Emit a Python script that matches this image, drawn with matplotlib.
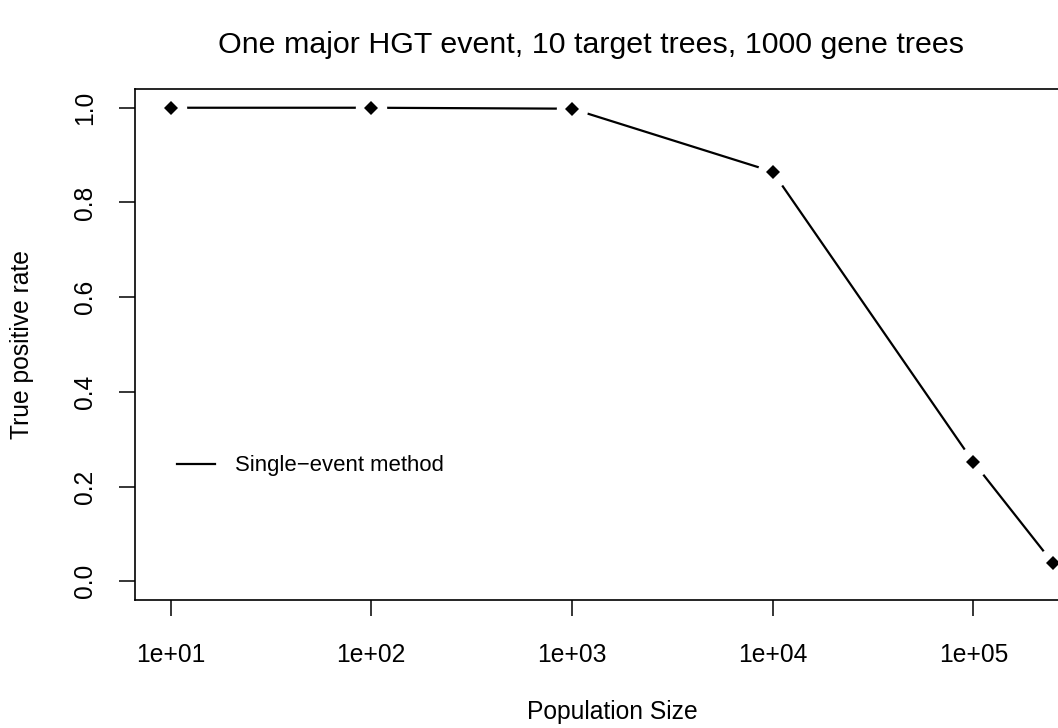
import numpy as np
import matplotlib
matplotlib.use("Agg")
import matplotlib.pyplot as plt
from matplotlib.lines import Line2D

population_size = [1e1, 1e2, 1e3, 1e4, 1e5, 2.5e5]
true_positive_rate = [1.0, 1.0, 0.998, 0.865, 0.252, 0.038]
x_ticks = [1e1, 1e2, 1e3, 1e4, 1e5]
x_tick_labels = ["1e+01", "1e+02", "1e+03", "1e+04", "1e+05"]
y_ticks = [0.0, 0.2, 0.4, 0.6, 0.8, 1.0]
y_tick_labels = ["0.0", "0.2", "0.4", "0.6", "0.8", "1.0"]
title = "One major HGT event, 10 target trees, 1000 gene trees"
x_label = "Population Size"
y_label = "True positive rate"
legend_label = "Single\u2212event method"

plt.rcParams['font.family'] = ['Liberation Sans', 'DejaVu Sans']

W, H = 1058, 728
fig = plt.figure(figsize=(W / 100, H / 100), dpi=100)
# box: left 135.3, right 1088.5 (cropped), top 88.8, bottom 600.3 px
left, right, top, bottom = 135.3, 1088.5, 88.8, 600.3
ax = fig.add_axes([left / W, 1 - bottom / H, (right - left) / W, (bottom - top) / H])

lx = np.log10(population_size)
span = lx.max() - lx.min()
ax.set_xscale("log")
ax.set_xlim(10 ** (lx.min() - 0.04 * span), 10 ** (lx.max() + 0.04 * span))
ax.set_ylim(-0.04, 1.04)

lw = 1.6
ax.plot(population_size, true_positive_rate, color="black", lw=lw, zorder=2,
        solid_capstyle="butt")
# gaps around points (R type="b")
ax.plot(population_size, true_positive_rate, linestyle="none", marker="o",
        markersize=22.6, markerfacecolor="white", markeredgewidth=0, zorder=3)
ax.plot(population_size, true_positive_rate, linestyle="none", marker="D",
        markersize=7.2, color="black", markeredgewidth=0, zorder=4)

ax.set_xticks(x_ticks)
ax.set_xticklabels(x_tick_labels)
ax.xaxis.set_minor_locator(matplotlib.ticker.NullLocator())
ax.set_yticks(y_ticks)
ax.set_yticklabels(y_tick_labels, rotation=90, va="center")

tick_fs = 17.7
ax.tick_params(axis="both", direction="out", length=11.5, width=1.1,
               labelsize=tick_fs, color="black")
ax.tick_params(axis="x", pad=19)
ax.tick_params(axis="y", pad=16)
for s in ax.spines.values():
    s.set_linewidth(1.2)

fig.text(591 / W, 1 - 45 / H, title, ha="center", va="center",
         fontsize=21.9)
fig.text(((135.3 + 1088.5) / 2) / W, 1 - 712 / H, x_label, ha="center",
         va="center", fontsize=tick_fs)
fig.text(22 / W, 1 - ((88.8 + 600.3) / 2) / H, y_label, ha="center",
         va="center", rotation=90, fontsize=tick_fs)

handle = Line2D([0], [0], color="black", lw=lw)
ax.legend([handle], [legend_label], loc="center left",
          bbox_to_anchor=((177 - left) / (right - left), (bottom - 466) / (bottom - top)),
          frameon=False, fontsize=15.9, handlelength=1.72, handletextpad=0.9,
          borderpad=0, borderaxespad=0)

fig.savefig("out.png", dpi=100)
